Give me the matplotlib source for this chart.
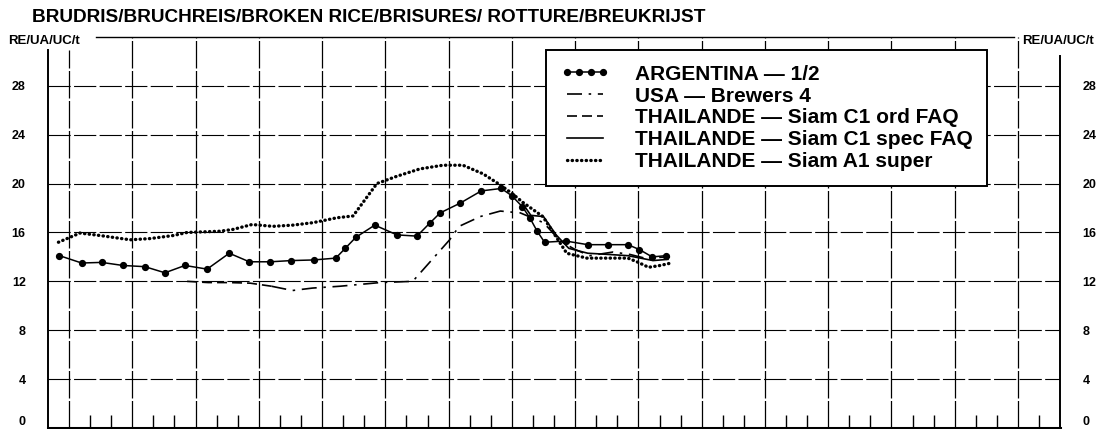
import matplotlib
matplotlib.use("Agg")
import matplotlib.pyplot as plt

plt.rcParams['font.family'] = ['Liberation Sans', 'DejaVu Sans']
plt.rcParams['font.weight'] = 'bold'

# months since start of the chart
arg_x = [0.55, 1.6, 2.55, 3.55, 4.6, 5.55, 6.5, 7.55, 8.6, 9.55,
         10.55, 11.55, 12.6, 13.65, 14.1, 14.6, 15.5, 16.55, 17.5, 18.1,
         18.6, 19.55, 20.55, 21.5, 22.0, 22.5, 22.85, 23.2, 23.55, 24.55,
         25.6, 26.55, 27.5, 28.05, 28.65, 29.3]
arg_y = [14.1, 13.5, 13.55, 13.3, 13.2, 12.7, 13.3, 13.0, 14.3, 13.6,
         13.6, 13.7, 13.75, 13.9, 14.7, 15.6, 16.6, 15.8, 15.7, 16.75,
         17.6, 18.4, 19.4, 19.6, 19.0, 18.1, 17.2, 16.1, 15.2, 15.3,
         15.0, 15.0, 15.0, 14.6, 14.0, 14.1]

usa_x = [10.6, 11.6, 12.55, 13.85, 15.75, 17.3, 19.05, 19.5, 20.5, 21.45,
         22.4, 23.5, 24.3, 25.0, 25.7, 26.8, 27.6, 28.3, 29.5]
usa_y = [11.6, 11.25, 11.45, 11.6, 11.9, 12.0, 15.4, 16.5, 17.3, 17.75,
         17.6, 16.8, 15.3, 14.6, 14.1, 14.4, 14.2, 13.9, 14.0]

ord_x = [6.6, 7.6, 8.6, 9.6, 10.6]
ord_y = [12.0, 11.9, 11.9, 11.85, 11.6]

spec_x = [22.5, 22.9, 23.5, 24.1, 24.7, 25.6, 26.6, 27.5, 28.1, 28.7, 29.4]
spec_y = [18.4, 17.4, 17.3, 15.8, 14.7, 14.3, 14.2, 14.1, 13.9, 13.7, 13.8]

a1_x = [0.5, 1.52, 2.47, 3.9, 4.85, 5.95, 6.6, 8.16, 8.78, 9.68,
        10.67, 11.62, 12.57, 13.14, 13.7, 14.47, 15.6, 16.55, 17.64, 18.73,
        19.68, 20.63, 21.44, 22.0, 22.53, 23.47, 24.0, 24.6, 25.55, 26.65,
        27.5, 27.93, 28.48, 29.04, 29.55]
a1_y = [15.2, 15.95, 15.75, 15.4, 15.5, 15.75, 16.0, 16.1, 16.25, 16.65,
        16.5, 16.6, 16.8, 17.0, 17.2, 17.35, 20.0, 20.6, 21.2, 21.5,
        21.5, 20.8, 19.9, 19.2, 18.45, 17.3, 15.9, 14.3, 13.9, 13.9,
        13.9, 13.6, 13.15, 13.3, 13.5]

y_ticks = [0, 4, 8, 12, 16, 20, 24, 28]
quarter_lines = list(range(1, 47, 3))
month_ticks = [m for m in range(2, 48) if (m - 1) % 3 != 0]

fig = plt.figure(figsize=(11.06, 4.29), dpi=100)
ax = fig.add_axes([0.0433, 0.0023, 0.9153, 0.9117])
ax.set_xlim(0, 48)
ax.set_ylim(0, 32)

# grid
ax.hlines(y_ticks[1:], 0, 48, color='black', lw=0.8, linestyles=[(0, (20, 3))])
tops = [30.9 if m == 1 else 32 for m in quarter_lines]
ax.vlines(quarter_lines, 0, tops, color='black', lw=0.9, linestyles=[(0, (22, 2))])
ax.vlines(month_ticks, 0, 1.1, color='black', lw=1.0)
ax.plot([2.3, 45.8], [32, 32], color='black', lw=1.0, clip_on=False)

# series
ax.plot(arg_x, arg_y, color='black', lw=1.1, marker='o', ms=4.2,
        label='ARGENTINA \u2014 1/2')
ax.plot(usa_x, usa_y, color='black', lw=1.2, ls=(0, (9, 4, 1.5, 4)),
        label='USA \u2014 Brewers 4')
ax.plot(ord_x, ord_y, color='black', lw=1.2, ls=(0, (6, 3)),
        label='THAILANDE \u2014 Siam C1 ord FAQ')
ax.plot(spec_x, spec_y, color='black', lw=1.2,
        label='THAILANDE \u2014 Siam C1 spec FAQ')
ax.plot(a1_x, a1_y, color='black', lw=2.4, ls=(0, (0.1, 1.3)),
        dash_capstyle='round', label='THAILANDE \u2014 Siam A1 super')

# axes frame
ax.spines['top'].set_visible(False)
ax.spines['left'].set_bounds(0, 30.9)
ax.spines['right'].set_bounds(0, 30.4)
ax.spines['left'].set_linewidth(1.4)
ax.spines['right'].set_linewidth(1.4)
ax.spines['bottom'].set_linewidth(2.2)

ax.set_xticks([])
ax.set_yticks(y_ticks, [str(v) for v in y_ticks], fontsize=9, fontweight='bold')
ax.tick_params(axis='y', length=0, pad=16, labelleft=True, labelright=True)
zero_tick = ax.yaxis.get_major_ticks()[0]
zero_tick.label1.set_verticalalignment('bottom')
zero_tick.label2.set_verticalalignment('bottom')

leg = ax.legend(loc='upper left', bbox_to_anchor=(546 / 1106, 1 - 50 / 429),
                bbox_transform=fig.transFigure, borderaxespad=0, frameon=True,
                fancybox=False, edgecolor='black', numpoints=4,
                handlelength=2.35, handletextpad=1.22, labelspacing=0.14,
                borderpad=0.7, prop={'weight': 'bold', 'size': 15})
leg.get_frame().set_linewidth(1.4)
leg.get_frame().set_alpha(None)
leg.get_frame().set_facecolor('white')

fig.text(32 / 1106, 1 - 18 / 429,
         'BRUDRIS/BRUCHREIS/BROKEN RICE/BRISURES/ ROTTURE/BREUKRIJST',
         fontsize=13.7, fontweight='bold', va='center', ha='left')
fig.text(8 / 1106, 1 - 41 / 429, 'RE/UA/UC/t', fontsize=9.5, fontweight='bold',
         va='center', ha='left')
fig.text(1022 / 1106, 1 - 41 / 429, 'RE/UA/UC/t', fontsize=9.5, fontweight='bold',
         va='center', ha='left')

fig.savefig('out.png', dpi=100)
